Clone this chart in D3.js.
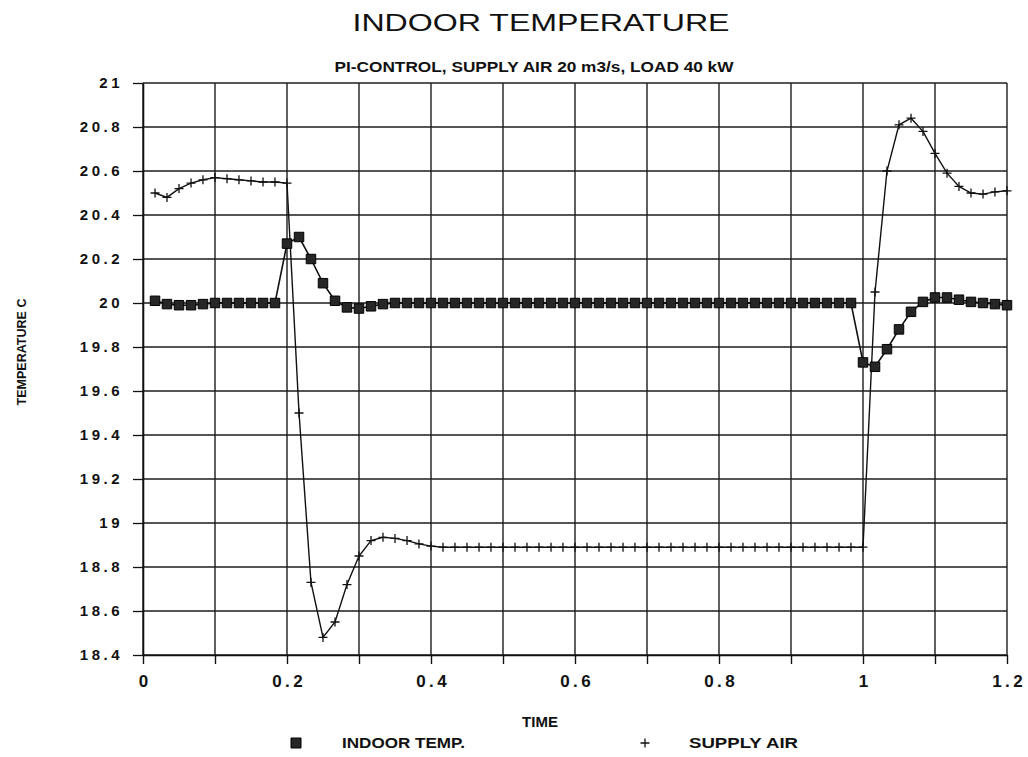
<!DOCTYPE html>
<html>
<head>
<meta charset="utf-8">
<script src="https://cdnjs.cloudflare.com/ajax/libs/d3/7.8.5/d3.min.js"></script>
<style>
  body { margin: 0; background: #fff; }
  svg { display: block; font-family: "Liberation Sans", Arial, Helvetica, sans-serif; }
</style>
</head>
<body>
<svg id="chart"></svg>
<script>
// time in hours (one sample per minute)
const time = [
  0.0167, 0.0333, 0.05, 0.0667, 0.0833, 0.1, 0.1167, 0.1333, 0.15, 0.1667, 0.1833, 0.2,
  0.2167, 0.2333, 0.25, 0.2667, 0.2833, 0.3, 0.3167, 0.3333, 0.35, 0.3667, 0.3833, 0.4,
  0.4167, 0.4333, 0.45, 0.4667, 0.4833, 0.5, 0.5167, 0.5333, 0.55, 0.5667, 0.5833, 0.6,
  0.6167, 0.6333, 0.65, 0.6667, 0.6833, 0.7, 0.7167, 0.7333, 0.75, 0.7667, 0.7833, 0.8,
  0.8167, 0.8333, 0.85, 0.8667, 0.8833, 0.9, 0.9167, 0.9333, 0.95, 0.9667, 0.9833, 1.0,
  1.0167, 1.0333, 1.05, 1.0667, 1.0833, 1.1, 1.1167, 1.1333, 1.15, 1.1667, 1.1833, 1.2
];

const indoorTemp = [
  20.01, 19.995, 19.99, 19.99, 19.995, 20.0, 20.0, 20.0, 20.0, 20.0, 20.0, 20.27,
  20.30, 20.20, 20.09, 20.01, 19.98, 19.975, 19.985, 19.995, 20.0, 20.0, 20.0, 20.0,
  20.0, 20.0, 20.0, 20.0, 20.0, 20.0, 20.0, 20.0, 20.0, 20.0, 20.0, 20.0,
  20.0, 20.0, 20.0, 20.0, 20.0, 20.0, 20.0, 20.0, 20.0, 20.0, 20.0, 20.0,
  20.0, 20.0, 20.0, 20.0, 20.0, 20.0, 20.0, 20.0, 20.0, 20.0, 20.0, 19.73,
  19.71, 19.79, 19.88, 19.96, 20.005, 20.025, 20.025, 20.015, 20.005, 20.0, 19.995, 19.99
];

const supplyAir = [
  20.50, 20.48, 20.52, 20.545, 20.56, 20.57, 20.565, 20.56, 20.555, 20.55, 20.55, 20.545,
  19.50, 18.73, 18.48, 18.55, 18.72, 18.85, 18.92, 18.935, 18.93, 18.92, 18.905, 18.895,
  18.89, 18.89, 18.89, 18.89, 18.89, 18.89, 18.89, 18.89, 18.89, 18.89, 18.89, 18.89,
  18.89, 18.89, 18.89, 18.89, 18.89, 18.89, 18.89, 18.89, 18.89, 18.89, 18.89, 18.89,
  18.89, 18.89, 18.89, 18.89, 18.89, 18.89, 18.89, 18.89, 18.89, 18.89, 18.89, 18.89,
  20.05, 20.60, 20.81, 20.84, 20.78, 20.68, 20.59, 20.53, 20.50, 20.495, 20.505, 20.51
];

const xLabelTicks = [0, 0.2, 0.4, 0.6, 0.8, 1, 1.2];
const xGridTicks = [0, 0.1, 0.2, 0.3, 0.4, 0.5, 0.6, 0.7, 0.8, 0.9, 1, 1.1, 1.2];
const yTicks = [18.4, 18.6, 18.8, 19, 19.2, 19.4, 19.6, 19.8, 20, 20.2, 20.4, 20.6, 20.8, 21];

const width = 1028;
const height = 757;
const margin = { top: 83, right: 21, bottom: 102, left: 143 };

const svg = d3.select("#chart")
    .attr("width", width)
    .attr("height", height);

const x = d3.scaleLinear()
    .domain([0, 1.2])
    .range([margin.left, width - margin.right]);

const y = d3.scaleLinear()
    .domain([18.4, 21])
    .range([height - margin.bottom, margin.top]);

// Grid
svg.append("g")
    .selectAll("line")
    .data(yTicks)
    .join("line")
    .attr("x1", x(0))
    .attr("x2", x(1.2))
    .attr("y1", d => y(d))
    .attr("y2", d => y(d))
    .attr("stroke", "#1c1c1c")
    .attr("stroke-width", 1.3);

svg.append("g")
    .selectAll("line")
    .data(xGridTicks)
    .join("line")
    .attr("x1", d => x(d))
    .attr("x2", d => x(d))
    .attr("y1", y(21))
    .attr("y2", y(18.4))
    .attr("stroke", "#1c1c1c")
    .attr("stroke-width", 1.4);

// X axis: ticks every 0.1, labels every 0.2
const xAxis = svg.append("g")
    .attr("transform", `translate(0,${y(18.4)})`)
    .call(d3.axisBottom(x)
        .tickValues(xGridTicks)
        .tickSize(9)
        .tickSizeOuter(0)
        .tickFormat(d => xLabelTicks.includes(d) ? String(d) : ""));
xAxis.select(".domain").attr("stroke", "#111").attr("stroke-width", 1.5);
xAxis.selectAll(".tick line").attr("stroke", "#111").attr("stroke-width", 1.4);
xAxis.selectAll(".tick text")
    .attr("y", 20)
    .attr("dy", "0.71em")
    .attr("dx", 1.7)
    .style("font-size", "17px")
    .style("font-weight", "bold")
    .style("letter-spacing", "3.5px")
    .attr("fill", "#111");

// Y axis
const yAxis = svg.append("g")
    .attr("transform", `translate(${x(0)},0)`)
    .call(d3.axisLeft(y)
        .tickValues(yTicks)
        .tickSize(10)
        .tickSizeOuter(0)
        .tickFormat(d => String(d)));
yAxis.select(".domain").attr("stroke", "#111").attr("stroke-width", 1.6);
yAxis.selectAll(".tick text")
    .attr("x", -20)
    .style("font-size", "15px")
    .style("font-weight", "bold")
    .style("letter-spacing", "3.5px")
    .attr("fill", "#111");
yAxis.selectAll(".tick line").attr("stroke", "#111").attr("stroke-width", 1.3);

// Lines
const line = d3.line()
    .x(d => x(d[0]))
    .y(d => y(d[1]));

const indoorPts = time.map((t, i) => [t, indoorTemp[i]]);
const supplyPts = time.map((t, i) => [t, supplyAir[i]]);

svg.append("path")
    .datum(supplyPts)
    .attr("d", line)
    .attr("fill", "none")
    .attr("stroke", "#111")
    .attr("stroke-width", 1.4);

svg.append("path")
    .datum(indoorPts)
    .attr("d", line)
    .attr("fill", "none")
    .attr("stroke", "#111")
    .attr("stroke-width", 1.6);

// Markers
const crossPath = "M-4.5,0H4.5M0,-4.5V4.5";

svg.append("g")
    .selectAll("path")
    .data(supplyPts)
    .join("path")
    .attr("transform", d => `translate(${x(d[0])},${y(d[1])})`)
    .attr("d", crossPath)
    .attr("stroke", "#111")
    .attr("stroke-width", 1.3)
    .attr("fill", "none");

svg.append("g")
    .selectAll("path")
    .data(indoorPts)
    .join("path")
    .attr("transform", d => `translate(${x(d[0])},${y(d[1])})`)
    .attr("d", d3.symbol(d3.symbolSquare, 90))
    .attr("fill", "#262626")
    .attr("stroke", "#000")
    .attr("stroke-width", 1);

// Titles
svg.append("text")
    .attr("x", 541)
    .attr("y", 31)
    .attr("text-anchor", "middle")
    .attr("textLength", 377)
    .attr("lengthAdjust", "spacingAndGlyphs")
    .style("font-size", "24px")
    .attr("fill", "#111")
    .text("INDOOR TEMPERATURE");

svg.append("text")
    .attr("x", 534)
    .attr("y", 72)
    .attr("text-anchor", "middle")
    .attr("textLength", 399)
    .attr("lengthAdjust", "spacingAndGlyphs")
    .style("font-size", "14px")
    .style("font-weight", "bold")
    .attr("fill", "#111")
    .text("PI-CONTROL, SUPPLY AIR 20 m3/s, LOAD 40 kW");

svg.append("text")
    .attr("x", 540)
    .attr("y", 727)
    .attr("text-anchor", "middle")
    .style("font-size", "15px")
    .style("font-weight", "bold")
    .attr("fill", "#111")
    .text("TIME");

svg.append("text")
    .attr("transform", "translate(26,352) rotate(-90)")
    .attr("text-anchor", "middle")
    .attr("textLength", 107)
    .attr("lengthAdjust", "spacingAndGlyphs")
    .style("font-size", "13px")
    .style("font-weight", "bold")
    .attr("fill", "#111")
    .text("TEMPERATURE C");

// Legend
const legend = svg.append("g");
legend.append("path")
    .attr("transform", "translate(296,743)")
    .attr("d", d3.symbol(d3.symbolSquare, 100))
    .attr("fill", "#262626")
    .attr("stroke", "#000");
legend.append("text")
    .attr("x", 342)
    .attr("y", 748)
    .attr("textLength", 123)
    .attr("lengthAdjust", "spacingAndGlyphs")
    .style("font-size", "15px")
    .style("font-weight", "bold")
    .attr("fill", "#111")
    .text("INDOOR TEMP.");
legend.append("path")
    .attr("transform", "translate(645,743)")
    .attr("d", crossPath)
    .attr("stroke", "#111")
    .attr("stroke-width", 1.3);
legend.append("text")
    .attr("x", 689)
    .attr("y", 748)
    .attr("textLength", 109)
    .attr("lengthAdjust", "spacingAndGlyphs")
    .style("font-size", "15px")
    .style("font-weight", "bold")
    .attr("fill", "#111")
    .text("SUPPLY AIR");
</script>
</body>
</html>
